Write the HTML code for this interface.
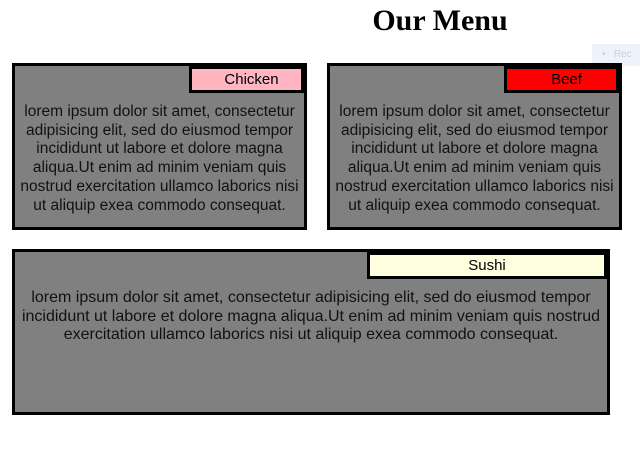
<!DOCTYPE html>
<html><head><style>
body{margin:0;width:640px;height:454px;background:#fff;position:relative;overflow:hidden;font-family:"Liberation Sans",Arial,sans-serif}
h1{position:absolute;left:0;width:880px;top:4px;margin:0;text-align:center;font:bold 30px "Liberation Serif",serif}
.box{position:absolute;background:#808080;border:3px solid #000;box-sizing:border-box}
.lab{position:absolute;right:0;top:0;border:3px solid #000;box-sizing:border-box;height:27px;font-size:15px;line-height:21px;text-align:center;color:#000}
.txt{position:absolute;left:0;right:0;text-align:center;font-size:15.5px;line-height:18.7px;color:#111}
.rec{position:absolute;left:592px;top:44px;width:48px;height:22px;background:#eef3fb;color:#c8d2e0;font-size:10px;line-height:22px;padding-left:10px;box-sizing:border-box}
</style></head><body>
<h1>Our Menu</h1>
<div class="rec">•&nbsp;&nbsp;&nbsp;Rec</div>
<div class="box" style="left:12px;top:63px;width:295px;height:167px">
 <div class="lab" style="width:115px;background:#ffb6c1;padding-left:10px">Chicken</div>
 <div class="txt" style="top:37px">lorem ipsum dolor sit amet, consectetur adipisicing elit, sed do eiusmod tempor incididunt ut labore et dolore magna aliqua.Ut enim ad minim veniam quis nostrud exercitation ullamco laborics nisi ut aliquip exea commodo consequat.</div>
</div>
<div class="box" style="left:327px;top:63px;width:295px;height:167px">
 <div class="lab" style="width:115px;background:#f00;padding-left:10px">Beef</div>
 <div class="txt" style="top:37px">lorem ipsum dolor sit amet, consectetur adipisicing elit, sed do eiusmod tempor incididunt ut labore et dolore magna aliqua.Ut enim ad minim veniam quis nostrud exercitation ullamco laborics nisi ut aliquip exea commodo consequat.</div>
</div>
<div class="box" style="left:12px;top:249px;width:598px;height:166px">
 <div class="lab" style="width:240px;background:#ffffe0">Sushi</div>
 <div class="txt" style="top:37px;white-space:nowrap;font-size:16px">lorem ipsum dolor sit amet, consectetur adipisicing elit, sed do eiusmod tempor<br>incididunt ut labore et dolore magna aliqua.Ut enim ad minim veniam quis nostrud<br>exercitation ullamco laborics nisi ut aliquip exea commodo consequat.</div>
</div>
</body></html>
